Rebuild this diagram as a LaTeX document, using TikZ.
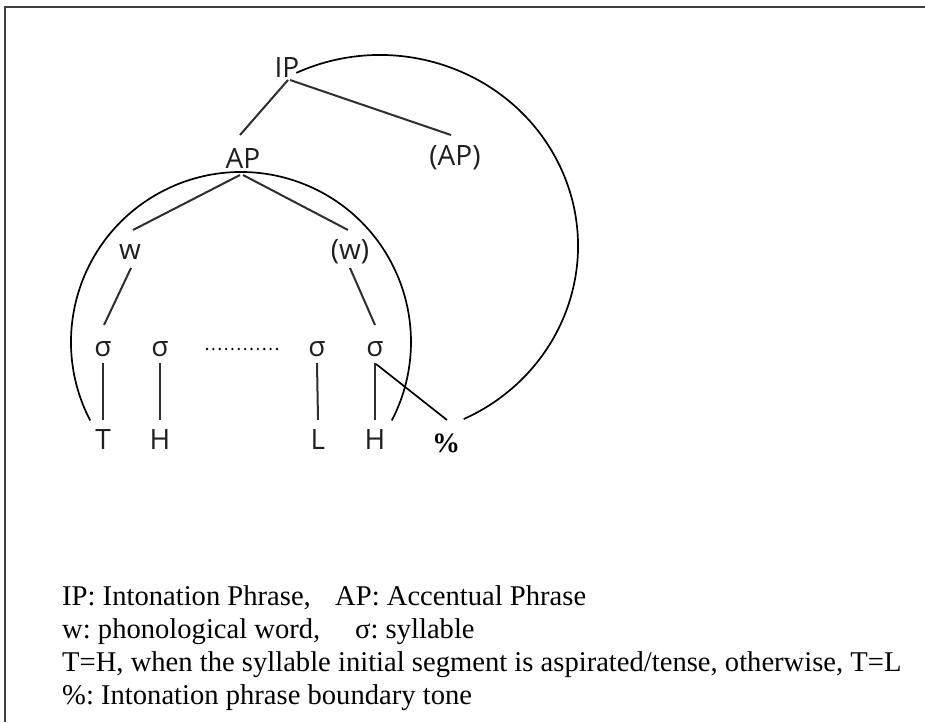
\documentclass[tikz,border=0pt]{standalone}
\usepackage{fontspec}
\setmainfont{Liberation Serif}
\newfontfamily\treefont{Open Sans}
\usetikzlibrary{calc}

\begin{document}
\frenchspacing
\begin{tikzpicture}[x=1pt,y=1pt,
  lab/.style={font=\treefont\fontsize{28}{28}\selectfont, inner sep=0pt, text=black!88},
  edge/.style={line width=2pt, draw=black!82},
  ring/.style={line width=1.7pt, draw=black},
  legend/.style={font=\fontsize{28.6}{33}\selectfont, anchor=base west, inner sep=0pt}]
\useasboundingbox (0,0) rectangle (925,-722);

% frame lines
\draw[line width=2pt, draw=black!75] (5,-722) -- (5,-7) -- (925,-7);

% prosodic tree labels
\node[lab] (ip)  at (287,-68)  {IP};
\node[lab] (ap)  at (243,-158) {AP};
\node[lab] (ap2) at (455,-158) {(AP)};
\node[lab] (w1)  at (130,-252) {w};
\node[lab] (w2)  at (350,-252) {(w)};
\node[lab] (s1)  at (103,-349) {σ};
\node[lab] (s2)  at (160,-349) {σ};
\node[lab] (s3)  at (317,-349) {σ};
\node[lab] (s4)  at (375,-349) {σ};
\node[lab] (t1)  at (103,-440) {T};
\node[lab] (t2)  at (160,-440) {H};
\node[lab] (t3)  at (318,-440) {L};
\node[lab] (t4)  at (375,-440) {H};
\node[inner sep=0pt, font=\bfseries\fontsize{28}{28}\selectfont] (pc) at (446,-443) {\%};

% branches
\draw[edge] ($(ip)+(1,-12)$) -- ($(ap)+(-3,23)$);
\draw[edge] ($(ip)+(3,-12)$) -- ($(ap2)+(-4,23)$);
\draw[edge] ($(ap)+(-3,-17)$) -- ($(w1)+(3,22)$);
\draw[edge] ($(ap)+(0,-17)$) -- ($(w2)+(-2,22)$);
\draw[edge] ($(w1)+(1,-16)$) -- ($(s1)+(1,24)$);
\draw[edge] ($(w2)+(0,-16)$) -- ($(s4)+(0,24)$);
\draw[edge] ($(s1)+(0,-14)$) -- ($(t1)+(0,20)$);
\draw[edge] ($(s2)+(0,-14)$) -- ($(t2)+(0,20)$);
\draw[edge] ($(s3)+(0,-14)$) -- ($(t3)+(0,20)$);
\draw[edge] ($(s4)+(0,-14)$) -- ($(t4)+(0,20)$);
\draw[ring] ($(s4)+(1,-15)$) -- ($(pc)+(1,23)$);

% syllables left out
\draw[line width=2.6pt, line cap=round, dash pattern=on 0pt off 6.36pt]
  ($(s2)+(47,0)$) -- ($(s3)+(-40,0)$);

% accentual phrase domain
\coordinate (apc) at (241,-342);
\draw[ring] ($(apc)+(207.5:170)$) arc[start angle=207.5, end angle=-27.5, radius=170];

% intonation phrase domain
\coordinate (ipc) at (380,-246);
\draw[ring] ($(ipc)+(115:198 and 191)$) arc[start angle=115, end angle=-65, x radius=198, y radius=191];

% key
\node[legend] (k1)  at (62,-605)  {IP: Intonation Phrase,};
\node[legend] (k1b) at (335,-605) {AP: Accentual Phrase};
\node[legend] (k2)  at (62,-638)  {w: phonological word,};
\node[legend] (k2b) at (355,-638) {σ: syllable};
\node[legend] (k3)  at (62,-671)  {T=H, when the syllable initial segment is aspirated/tense, otherwise, T=L};
\node[legend] (k4)  at (62,-704)  {\%: Intonation phrase boundary tone};
\end{tikzpicture}
\end{document}
